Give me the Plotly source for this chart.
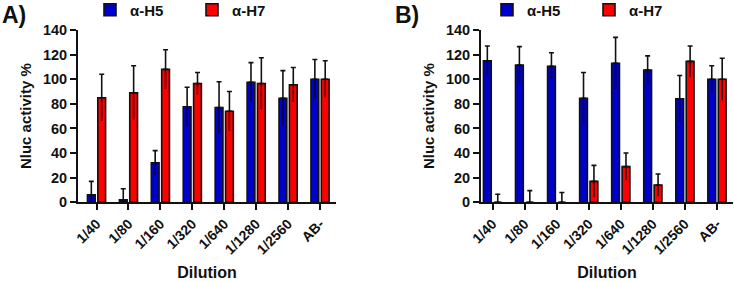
import plotly.graph_objects as go

categories = ["1/40", "1/80", "1/160", "1/320", "1/640", "1/1280", "1/2560", "AB-"]
series_names = ["α-H5", "α-H7"]

a_h5 = [6, 2, 32, 77.5, 77, 97.5, 84.5, 100]
a_h5_sd = [11, 9, 10, 16, 21, 16, 22.5, 16]
a_h7 = [85, 89, 108, 96.5, 74, 96.5, 95.5, 100]
a_h7_sd = [19, 22, 16, 9, 16, 21, 14, 15]

b_h5 = [115, 111.5, 110.5, 84.5, 113, 107.5, 84, 100]
b_h5_sd = [12, 15, 11, 21, 21, 11.5, 19, 11]
b_h7 = [0, 0, 0, 17, 29, 14, 114.5, 100]
b_h7_sd = [6.5, 9.5, 8, 13, 11, 9, 12.5, 17]

y_ticks = [0, 20, 40, 60, 80, 100, 120, 140]

colors = ["#0000CC", "#FF0000"]
FONT = "Liberation Sans, Arial, sans-serif"
W, H = 734, 282

fig = go.Figure()

panels = [
    ("x", "y", "legend", [a_h5, a_h7], [a_h5_sd, a_h7_sd]),
    ("x2", "y2", "legend2", [b_h5, b_h7], [b_h5_sd, b_h7_sd]),
]

for xa, ya, leg, vals, sds in panels:
    for i, name in enumerate(series_names):
        grp = f"{xa}_{i}"
        # main bar with upward error bar + top cap
        fig.add_trace(go.Bar(
            x=categories, y=vals[i], name=name, xaxis=xa, yaxis=ya,
            legend=leg, offsetgroup=grp,
            marker=dict(color=colors[i], line=dict(color="#111111", width=1.6)),
            error_y=dict(type="data", array=sds[i], arrayminus=[0] * len(sds[i]),
                         symmetric=False, color="#111111", thickness=1.6, width=2.5),
        ))
        # overlay: downward half of error bar (no cap)
        fig.add_trace(go.Bar(
            x=categories, y=vals[i], name=name, xaxis=xa, yaxis=ya,
            legend=leg, offsetgroup=grp, showlegend=False, hoverinfo="skip",
            marker=dict(color="rgba(0,0,0,0)", line=dict(width=0)),
            error_y=dict(type="data", array=[0] * len(sds[i]), arrayminus=sds[i],
                         symmetric=False, color="#3a0000" if i == 1 else "#00003a",
                         thickness=1.6, width=0),
        ))

yax_common = dict(
    range=[0, 140], tickvals=y_ticks, ticks="outside", ticklen=6, tickwidth=2,
    tickcolor="#111111", showline=True, linecolor="#111111", linewidth=2,
    showgrid=False, zeroline=False, automargin=False,
    tickfont=dict(family=FONT, size=14.5, color="#111111", weight="bold"),
    title=dict(text="Nluc activity %", font=dict(family=FONT, size=15, color="#111111", weight="bold"), standoff=8),
    domain=[(H - 202.3) / H, (H - 30) / H],
)
xax_common = dict(
    type="category", ticks="outside", ticklen=6, tickwidth=2, tickcolor="#111111",
    showline=True, linecolor="#111111", linewidth=2, showgrid=False, zeroline=False,
    tickangle=-45, automargin=False,
    tickfont=dict(family=FONT, size=14, color="#111111", weight="bold"),
    title=dict(text="Dilution", font=dict(family=FONT, size=16, color="#111111", weight="bold"), standoff=10),
)

legend_common = dict(
    orientation="h", yanchor="middle", y=1 - 10 / H, xanchor="left",
    font=dict(family=FONT, size=15, color="#111111", weight="bold"),
    entrywidth=57, entrywidthmode="pixels", bgcolor="rgba(0,0,0,0)",
    itemclick=False, itemdoubleclick=False, tracegroupgap=0,
)

fig.update_layout(
    width=W, height=H, margin=dict(l=0, r=0, t=0, b=0, autoexpand=False),
    paper_bgcolor="white", plot_bgcolor="white",
    barmode="group", bargap=0.35, bargroupgap=0.25,
    showlegend=True,
    xaxis=dict(xax_common, domain=[78 / W, 336 / W], range=[-0.58, 7.5], anchor="y"),
    yaxis=dict(yax_common, anchor="x"),
    xaxis2=dict(xax_common, domain=[481 / W, 733 / W], range=[-0.36, 7.5], anchor="y2"),
    yaxis2=dict(yax_common, anchor="x2"),
    legend=dict(legend_common, x=90 / W),
    legend2=dict(legend_common, x=487 / W),
    annotations=[
        dict(text="A)", x=0, y=1, xref="paper", yref="paper", xanchor="left", yanchor="top",
             showarrow=False, font=dict(family=FONT, size=23, color="#111111", weight="bold")),
        dict(text="B)", x=393 / W, y=1, xref="paper", yref="paper", xanchor="left", yanchor="top",
             showarrow=False, font=dict(family=FONT, size=23, color="#111111", weight="bold")),
    ],
)

fig.write_html("out.html", config={"displayModeBar": False},
               post_script="document.body.style.margin='0px';document.body.style.overflow='hidden';")
